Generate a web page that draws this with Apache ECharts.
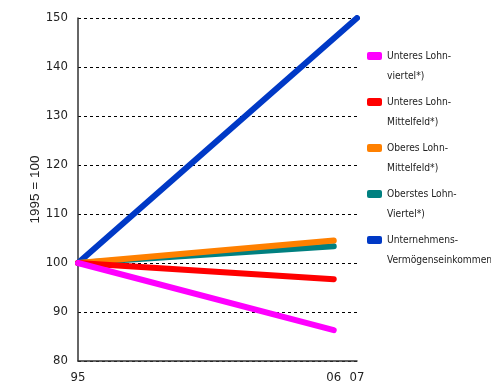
<!DOCTYPE html>
<html>
<head>
<meta charset="utf-8">
<script src="https://cdn.jsdelivr.net/npm/echarts@6/dist/echarts.min.js"></script>
<style>
	html, body { margin: 0; padding: 0; background: #fff; }
	#chart { width: 491px; height: 385px; }
</style>
</head>
<body>
<div id="chart"></div>
<script>
	/* Daten: Index 1995 = 100 */
	var seriesNames = [
		'Unteres Lohn-\nviertel*)',
		'Unteres Lohn-\nMittelfeld*)',
		'Oberes Lohn-\nMittelfeld*)',
		'Oberstes Lohn-\nViertel*)',
		'Unternehmens-\nVermögenseinkommen'
	];
	var seriesColors = ['#ff00ff', '#ff0000', '#ff8000', '#008080', '#0039c6'];
	var years = [
		[1995, 2006],
		[1995, 2006],
		[1995, 2006],
		[1995, 2006],
		[1995, 2007]
	];
	var values = [
		[100, 86.3],
		[100, 96.7],
		[100, 104.6],
		[100, 103.4],
		[100, 150]
	];
	var xLabels = [1995, 2006, 2007];

	var chart = echarts.init(document.getElementById('chart'));
	var font = '"DejaVu Sans Condensed", "Liberation Sans", Arial, sans-serif';

	var series = [];
	// blaue Linie zuerst, damit die anderen darüber liegen
	for (var i = seriesNames.length - 1; i >= 0; i--) {
		series.push({
			name: seriesNames[i],
			type: 'line',
			data: years[i].map(function(y, k){ return [y, values[i][k]]; }),
			symbol: 'none',
			lineStyle: { width: 6, color: seriesColors[i], cap: 'round' },
			itemStyle: { color: seriesColors[i] },
			animation: false
		});
	}

	chart.setOption({
		backgroundColor: '#fff',
		grid: { left: 78, right: 134, top: 18, bottom: 24 },
		xAxis: {
			type: 'value',
			min: 1995,
			max: 2007,
			interval: 1,
			axisLine: { lineStyle: { color: '#333', width: 1.5 } },
			axisTick: { show: false },
			splitLine: { show: false },
			axisLabel: {
				margin: 10,
				color: '#222',
				fontFamily: font,
				fontSize: 13,
				formatter: function(v){
					return xLabels.indexOf(v) >= 0 ? String(v).slice(2) : '';
				}
			}
		},
		yAxis: {
			type: 'value',
			min: 80,
			max: 150,
			interval: 10,
			name: '1995 = 100',
			nameLocation: 'middle',
			nameGap: 36,
			nameMoveOverlap: false,
			nameTextStyle: { fontFamily: '"Liberation Sans", Arial, sans-serif', fontSize: 13.5, color: '#222' },
			axisLine: { show: true, lineStyle: { color: '#333', width: 1.5 } },
			axisTick: { show: false },
			axisLabel: { margin: 10, color: '#222', fontFamily: font, fontSize: 13 },
			splitLine: {
				show: true,
				lineStyle: { color: '#000', type: [3, 3], width: 1 }
			}
		},
		legend: {
			orient: 'vertical',
			left: 362,
			top: 21,
			itemWidth: 15,
			itemHeight: 8,
			itemGap: -14,
			icon: 'roundRect',
			data: seriesNames,
			// leere erste Zeile, damit das Symbol auf Höhe der ersten Textzeile sitzt
			formatter: function(name){ return '\n' + name; },
			textStyle: {
				fontFamily: font,
				fontSize: 10.2,
				color: '#222',
				lineHeight: 20
			}
		},
		series: series
	});
</script>
</body>
</html>
